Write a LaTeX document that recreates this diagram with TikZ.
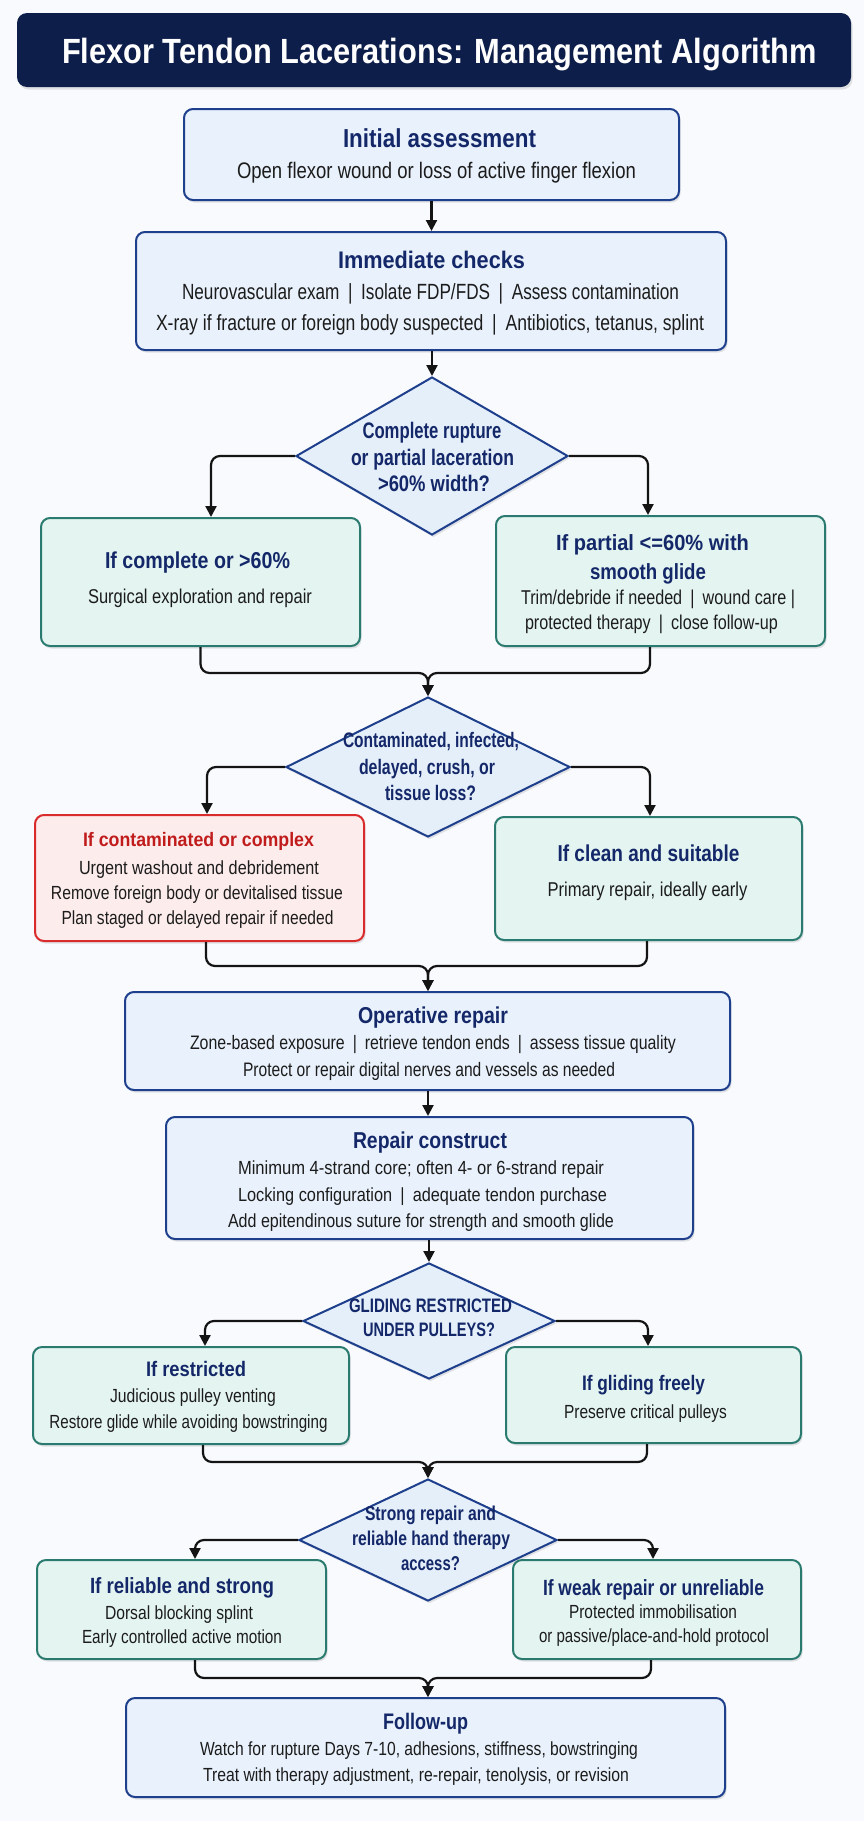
\documentclass[tikz,border=0pt]{standalone}
\usepackage{fontspec}
\usepackage{graphicx}
\setmainfont{Liberation Sans}
\newfontfamily\bodyf{Liberation Sans}
\newfontfamily\headf{Liberation Sans}
\usetikzlibrary{shapes.geometric,arrows.meta,shadows,calc}
\definecolor{bgc}{RGB}{248,250,253}
\definecolor{barc}{RGB}{14,30,74}
\definecolor{navyt}{RGB}{20,40,105}
\definecolor{blueb}{RGB}{30,63,140}
\definecolor{bluef}{RGB}{233,242,252}
\definecolor{tealb}{RGB}{43,122,111}
\definecolor{tealf}{RGB}{228,245,241}
\definecolor{redb}{RGB}{217,43,43}
\definecolor{redf}{RGB}{253,236,236}
\definecolor{redt}{RGB}{192,28,28}
\definecolor{decf}{RGB}{229,239,250}
\definecolor{bodyc}{RGB}{28,28,28}
\definecolor{linec}{RGB}{20,20,20}
\newcommand{\sep}{\hspace{0.5em}|\hspace{0.5em}}
\newsavebox\fitbox
\newcommand{\fw}[2]{\sbox\fitbox{#2}\pgfmathsetmacro\fitr{#1/\the\wd\fitbox}\scalebox{\fitr}[1]{\usebox\fitbox}}
\newcommand{\mkbox}[6]{\node[#1, minimum width={#5-#3}, minimum height={#6-#4}] (#2) at ({(#3+#5)/2},{(#4+#6)/2}) {};}
\newcommand{\mkdec}[5]{\node[dec, minimum width={2*#4}, minimum height={2*#5}] (#1) at (#2,#3) {};}
\tikzset{
  shad/.style={drop shadow={shadow xshift=1.5pt, shadow yshift=-2.5pt, opacity=0.10, fill=black}},
  boxbase/.style={draw, line width=2pt, rounded corners=9pt, inner sep=0pt, shad},
  bluebox/.style={boxbase, draw=blueb, fill=bluef},
  tealbox/.style={boxbase, draw=tealb, fill=tealf},
  redbox/.style={boxbase, draw=redb, fill=redf},
  dec/.style={diamond, draw=blueb, fill=decf, line width=2pt, inner sep=0pt, shad},
  ttl/.style={font=\headf\bfseries\fontsize{#1}{#1}\selectfont, text=navyt, anchor=base, inner sep=0pt, yshift={-0.358*#1}},
  ttlr/.style={font=\headf\bfseries\fontsize{#1}{#1}\selectfont, text=redt, anchor=base, inner sep=0pt, yshift={-0.358*#1}},
  bod/.style={font=\bodyf\fontsize{#1}{#1}\selectfont, text=bodyc, anchor=base, inner sep=0pt, yshift={-0.358*#1}},
  bod/.default=19,
  conn/.style={draw=linec, line width=2.2pt, rounded corners=9pt},
  arr/.style={conn, -{Triangle[length=11pt,width=11pt]}},
}
\begin{document}
\begin{tikzpicture}[x=1pt,y=-1pt]
\useasboundingbox (0,0) rectangle (864,1821);
\fill[bgc] (0,0) rectangle (864,1821);
% title bar
\node[fill=barc, rounded corners=10pt, minimum width=834pt, minimum height=74pt, inner sep=0pt, shad] (bar) at (434,50) {};
\node[font=\headf\bfseries\fontsize{35}{35}\selectfont, text=white, anchor=base, inner sep=0pt, yshift=-12.5pt] (bartxt) at (439.5,50.5) {\fw{755}{Flexor Tendon Lacerations: Management Algorithm}};
% boxes
\mkbox{bluebox}{b1}{184}{109}{679}{200}
\mkbox{bluebox}{b2}{136}{232}{726}{350}
\mkdec{d1}{432}{456}{136}{79}
\mkbox{tealbox}{b3}{41}{518}{360}{646}
\mkbox{tealbox}{b4}{496}{516}{825}{646}
\mkdec{d2}{428}{767}{142}{70}
\mkbox{redbox}{b5}{35}{815}{364}{941}
\mkbox{tealbox}{b6}{495}{817}{802}{940}
\mkbox{bluebox}{b7}{125}{992}{730}{1090}
\mkbox{bluebox}{b8}{166}{1117}{693}{1239}
\mkdec{d3}{429}{1321}{126}{58}
\mkbox{tealbox}{b9}{33}{1347}{349}{1444}
\mkbox{tealbox}{b10}{506}{1347}{801}{1443}
\mkdec{d4}{428}{1540}{129}{61}
\mkbox{tealbox}{b11}{37}{1560}{326}{1659}
\mkbox{tealbox}{b12}{513}{1560}{801}{1659}
\mkbox{bluebox}{b13}{126}{1698}{725}{1797}
% texts
\node[ttl=26] (t1a) at (439.5,138) {\fw{193}{Initial assessment}};
\node[bod=22.5] (t1b) at (436.5,170) {\fw{399}{Open flexor wound or loss of active finger flexion}};
\node[ttl=24] (t2a) at (431.5,260) {\fw{187}{Immediate checks}};
\node[bod=22] (t2b) at (430.5,292) {\fw{497}{Neurovascular exam\sep Isolate FDP/FDS\sep Assess contamination}};
\node[bod=22] (t2c) at (430,323) {\fw{548}{X-ray if fracture or foreign body suspected\sep Antibiotics, tetanus, splint}};
\node[ttl=22.5] (t3a) at (432,430) {\fw{139}{Complete rupture}};
\node[ttl=22.5] (t3b) at (432.5,457.5) {\fw{163}{or partial laceration}};
\node[ttl=22.5] (t3c) at (434,483) {\fw{112}{>60\% width?}};
\node[ttl=23] (t4a) at (197.5,560) {\fw{185}{If complete or >60\%}};
\node[bod=20] (t4b) at (200,596) {\fw{224}{Surgical exploration and repair}};
\node[ttl=22] (t5a) at (652.5,543) {\fw{193}{If partial <=60\% with}};
\node[ttl=22] (t5b) at (648,572) {\fw{116}{smooth glide}};
\node[bod=20] (t5c) at (658,597) {\fw{274}{Trim/debride if needed\sep wound care |}};
\node[bod=20] (t5d) at (651.5,622) {\fw{253}{protected therapy\sep close follow-up}};
\node[ttl=21] (t6a) at (431,740) {\fw{176}{Contaminated, infected,}};
\node[ttl=21] (t6b) at (427,767) {\fw{136}{delayed, crush, or}};
\node[ttl=21] (t6c) at (430.5,793) {\fw{91}{tissue loss?}};
\node[ttlr=19.5] (t7a) at (198.5,840) {\fw{231}{If contaminated or complex}};
\node[bod] (t7b) at (199,868) {\fw{240}{Urgent washout and debridement}};
\node[bod] (t7c) at (197,893) {\fw{292}{Remove foreign body or devitalised tissue}};
\node[bod] (t7d) at (197.5,918) {\fw{272}{Plan staged or delayed repair if needed}};
\node[ttl=23] (t8a) at (648.5,853) {\fw{182}{If clean and suitable}};
\node[bod=20] (t8b) at (647.5,889) {\fw{200}{Primary repair, ideally early}};
\node[ttl=23] (t9a) at (433,1015) {\fw{150}{Operative repair}};
\node[bod=19.5] (t9b) at (433,1043) {\fw{486}{Zone-based exposure\sep retrieve tendon ends\sep assess tissue quality}};
\node[bod=19.5] (t9c) at (429,1070) {\fw{372}{Protect or repair digital nerves and vessels as needed}};
\node[ttl=23] (t10a) at (430,1140) {\fw{154}{Repair construct}};
\node[bod] (t10b) at (421,1168) {\fw{366}{Minimum 4-strand core; often 4- or 6-strand repair}};
\node[bod] (t10c) at (422.5,1195) {\fw{369}{Locking configuration\sep adequate tendon purchase}};
\node[bod] (t10d) at (421,1221) {\fw{386}{Add epitendinous suture for strength and smooth glide}};
\node[ttl=19.5] (t11a) at (430.5,1306) {\fw{163}{GLIDING RESTRICTED}};
\node[ttl=19.5] (t11b) at (429,1330) {\fw{132}{UNDER PULLEYS?}};
\node[ttl=21] (t12a) at (196,1369) {\fw{100}{If restricted}};
\node[bod] (t12b) at (193,1396) {\fw{166}{Judicious pulley venting}};
\node[bod] (t12c) at (188.5,1422) {\fw{278}{Restore glide while avoiding bowstringing}};
\node[ttl=21] (t13a) at (643.5,1383) {\fw{123}{If gliding freely}};
\node[bod] (t13b) at (645.5,1412) {\fw{163}{Preserve critical pulleys}};
\node[ttl=20] (t14a) at (430.5,1513) {\fw{131}{Strong repair and}};
\node[ttl=20] (t14b) at (431,1538) {\fw{158}{reliable hand therapy}};
\node[ttl=20] (t14c) at (430.5,1563) {\fw{59}{access?}};
\node[ttl=22] (t15a) at (182,1585.5) {\fw{184}{If reliable and strong}};
\node[bod] (t15b) at (179,1612.5) {\fw{148}{Dorsal blocking splint}};
\node[bod] (t15c) at (182,1637) {\fw{200}{Early controlled active motion}};
\node[ttl=22] (t16a) at (653.5,1588) {\fw{221}{If weak repair or unreliable}};
\node[bod] (t16b) at (653,1612) {\fw{168}{Protected immobilisation}};
\node[bod] (t16c) at (654,1636) {\fw{230}{or passive/place-and-hold protocol}};
\node[ttl=22.5] (t17a) at (425.5,1721) {\fw{85}{Follow-up}};
\node[bod] (t17b) at (419,1749) {\fw{438}{Watch for rupture Days 7-10, adhesions, stiffness, bowstringing}};
\node[bod] (t17c) at (416,1775) {\fw{426}{Treat with therapy adjustment, re-repair, tenolysis, or revision}};
% merge points
\coordinate (m1) at (428,673);
\coordinate (m2) at (428,966);
\coordinate (m3) at (428,1462);
\coordinate (m4) at (428,1678);
% connectors
\draw[arr] (b1.south) -- (b1.south |- b2.north);
\draw[arr] (b2.south -| d1.north) -- (d1.north);
\draw[arr] (d1.west) -| ([xshift=10.5pt]b3.north);
\draw[arr] (d1.east) -| ([xshift=-12.5pt]b4.north);
\draw[arr] (b3.south) |- (m1) -- (d2.north);
\draw[arr] ([xshift=-10.5pt]b4.south) |- (m1) -- (d2.north);
\draw[arr] (d2.west) -| ([xshift=7.5pt]b5.north);
\draw[arr] (d2.east) -| ([xshift=1.5pt]b6.north);
\draw[arr] ([xshift=6.5pt]b5.south) |- (m2) -- (b7.north -| m2);
\draw[arr] ([xshift=-1.5pt]b6.south) |- (m2) -- (b7.north -| m2);
\draw[arr] (b7.south -| m2) -- (b8.north -| m2);
\draw[arr] (b8.south -| d3.north) -- (d3.north);
\draw[arr] (d3.west) -| ([xshift=14pt]b9.north);
\draw[arr] (d3.east) -| ([xshift=-5.5pt]b10.north);
\draw[arr] ([xshift=12pt]b9.south) |- (m3) -- (d4.north);
\draw[arr] ([xshift=-6.5pt]b10.south) |- (m3) -- (d4.north);
\draw[arr] (d4.west) -| ([xshift=13.5pt]b11.north);
\draw[arr] (d4.east) -| ([xshift=-4pt]b12.north);
\draw[arr] ([xshift=13.5pt]b11.south) |- (m4) -- (b13.north -| m4);
\draw[arr] ([xshift=-6pt]b12.south) |- (m4) -- (b13.north -| m4);
\end{tikzpicture}
\end{document}
